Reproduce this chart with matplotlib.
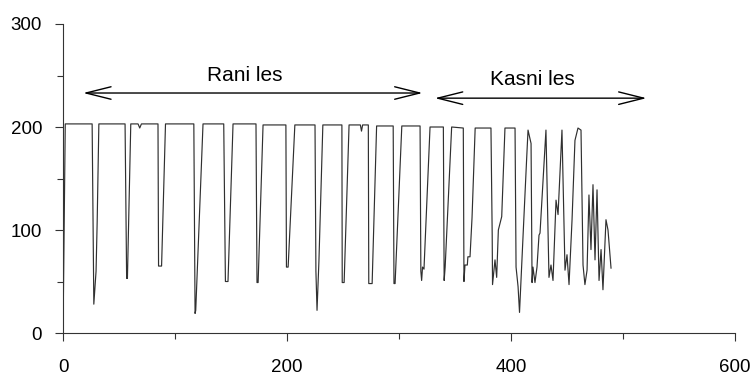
import matplotlib
matplotlib.use("Agg")
import matplotlib.pyplot as plt
from matplotlib.ticker import MultipleLocator

plt.rcParams['font.family'] = ['Liberation Sans', 'DejaVu Sans']

# --- series vertices (x, value) ---
x_vals = [
    0, 2, 26, 26.8, 27.5, 29.5, 30.5, 32,
    55.4, 56.8, 57.5, 60.5, 67, 68.5, 70,
    84.8, 85.3, 88, 91.5,
    116.8, 117.9, 118.5, 125,
    143.5, 145, 147.3, 151.8,
    172.3, 173.2, 174.2, 178.6,
    199, 199.5, 201, 207,
    225, 225.8, 226.8, 228.5, 232,
    249, 249.3, 251, 255.4, 265.5, 266.5, 267.5,
    272.6, 273, 276, 280,
    294.8, 295.5, 296.5, 302.5,
    318.8, 319.5, 320.2, 321, 322.3, 327.7,
    339.6, 340.3, 341.2, 347,
    357.4, 358, 358.9, 361, 361.5, 363.4, 365.2, 368,
    382.1, 383.2, 383.5, 385.7, 387.2, 388.7, 391.7, 394.6,
    403.6, 404.5, 406.3, 407.6, 410.7, 414, 415.2,
    417.9, 418.8, 419.6, 421.4, 423.2, 425, 425.9, 431.2,
    433.9, 435.7, 437.5, 440.2, 442, 445.5,
    448.2, 450, 451.8, 454.5, 457.1, 459.8, 462.5,
    464.3, 466, 467.9, 469.6, 471.4, 473.2, 475, 476.8,
    478.6, 480.4, 482.1, 484.8, 486.6, 489.3,
]
y_vals = [
    0, 203, 203, 110, 28, 60, 108, 203,
    203, 53, 53, 203, 203, 199, 203,
    203, 65, 65, 203,
    203, 19, 22, 203,
    203, 50, 50, 203,
    203, 49, 49, 202,
    202, 64, 64, 202,
    202, 60, 22, 70, 202,
    202, 49, 49, 202, 202, 196, 202,
    202, 48, 48, 201,
    201, 48, 48, 201,
    201, 60, 51, 64, 62, 200,
    200, 51, 64, 200,
    199, 50, 66, 66, 74, 74, 112, 199,
    199, 95, 47, 71, 54, 100, 113, 199,
    199, 64, 45, 20, 93, 170, 197,
    184, 49, 64, 49, 64, 95, 97, 197,
    54, 66, 51, 129, 115, 197,
    61, 76, 47, 110, 187, 199, 197,
    66, 47, 61, 134, 81, 144, 71, 139,
    51, 81, 42, 110, 100, 63,
]

labels = ["Rani les", "Kasni les"]
spans = [(18, 321), (332, 521)]
label_x = [162, 419]

fig = plt.figure(figsize=(7.52, 3.84), dpi=100)
ax = fig.add_axes([0.0838, 0.1328, 0.8936, 0.8047])

ax.plot(x_vals, y_vals, color='#303030', lw=0.85)

ax.set_xlim(0, 600)
ax.set_ylim(0, 300)
ax.xaxis.set_major_locator(MultipleLocator(200))
ax.xaxis.set_minor_locator(MultipleLocator(100))
ax.yaxis.set_major_locator(MultipleLocator(100))
ax.yaxis.set_minor_locator(MultipleLocator(50))
ax.tick_params(which='major', length=6, width=0.8, labelsize=13.5, pad=9, color='#333333')
ax.tick_params(axis='x', which='major', pad=13)
ax.tick_params(which='minor', length=4, width=0.8, color='#333333')

for s in ['top', 'right']:
    ax.spines[s].set_visible(False)
for s in ['left', 'bottom']:
    ax.spines[s].set_color('#333333')
    ax.spines[s].set_linewidth(0.8)

arrow_y = [233, 228]
text_y = [250, 246]
for lab, (a, b), lx, ay, ty in zip(labels, spans, label_x, arrow_y, text_y):
    ax.annotate('', xy=(a, ay), xytext=(b, ay),
                arrowprops=dict(arrowstyle='<->,head_length=1.8,head_width=0.45',
                                color='black', lw=1.0, shrinkA=0, shrinkB=0))
    ax.text(lx, ty, lab, ha='center', va='center', fontsize=15)

fig.savefig('out.png', dpi=100)
